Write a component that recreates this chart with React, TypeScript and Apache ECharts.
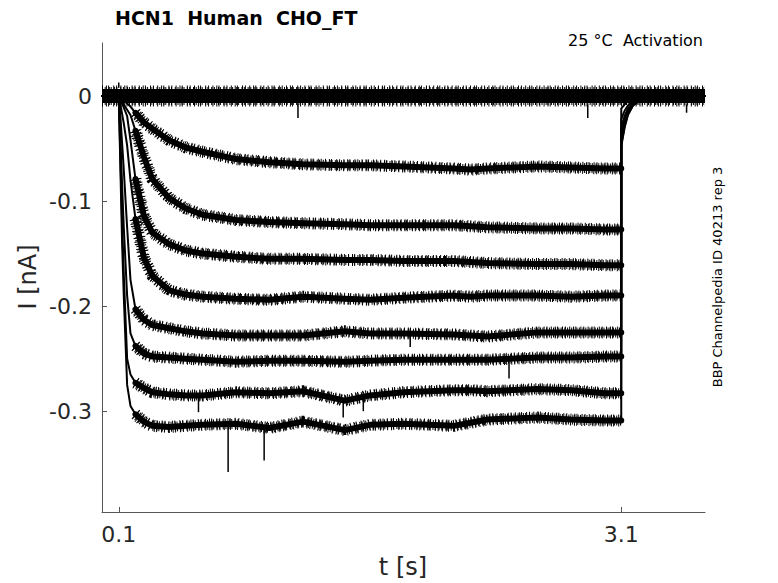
import React, { useEffect, useRef } from "react";
import * as echarts from "echarts";

// shared time base [s]
const times = [0, 0.1, 0.11, 0.12, 0.13, 0.15, 0.17, 0.2, 0.25, 0.3, 0.4, 0.5, 0.6, 0.8, 1.0, 1.2, 1.45, 1.6, 1.8, 2.1, 2.2, 2.3, 2.6, 2.8, 3.0, 3.1, 3.1, 3.12, 3.14, 3.17, 3.22, 3.3, 3.6];

// current traces [nA]
const trace1 = [0, 0, -0.001, -0.002, -0.004, -0.007, -0.010, -0.016, -0.025, -0.031, -0.042, -0.049, -0.053, -0.060, -0.063, -0.065, -0.066, -0.066, -0.067, -0.069, -0.070, -0.069, -0.067, -0.068, -0.069, -0.069, -0.012, -0.008, -0.005, -0.003, -0.001, 0, 0];
const trace2 = [0, 0, -0.002, -0.005, -0.008, -0.013, -0.018, -0.033, -0.058, -0.079, -0.097, -0.107, -0.113, -0.118, -0.120, -0.121, -0.122, -0.123, -0.123, -0.123, -0.124, -0.125, -0.126, -0.126, -0.127, -0.127, -0.022, -0.014, -0.009, -0.005, -0.002, 0, 0];
const trace3 = [0, 0, -0.003, -0.007, -0.011, -0.019, -0.042, -0.079, -0.114, -0.130, -0.141, -0.147, -0.150, -0.153, -0.155, -0.155, -0.156, -0.156, -0.157, -0.157, -0.158, -0.159, -0.160, -0.160, -0.161, -0.161, -0.030, -0.019, -0.012, -0.006, -0.002, 0, 0];
const trace4 = [0, 0, -0.008, -0.017, -0.026, -0.047, -0.080, -0.117, -0.154, -0.171, -0.185, -0.189, -0.191, -0.193, -0.194, -0.191, -0.193, -0.194, -0.192, -0.190, -0.191, -0.190, -0.190, -0.191, -0.190, -0.190, -0.036, -0.023, -0.014, -0.007, -0.002, 0, 0];
const trace5 = [0, 0, -0.020, -0.045, -0.070, -0.125, -0.175, -0.203, -0.213, -0.218, -0.221, -0.224, -0.226, -0.228, -0.228, -0.228, -0.224, -0.226, -0.226, -0.227, -0.228, -0.229, -0.225, -0.225, -0.225, -0.225, -0.040, -0.025, -0.015, -0.008, -0.002, 0, 0];
const trace6 = [0, 0, -0.040, -0.085, -0.125, -0.190, -0.226, -0.238, -0.245, -0.248, -0.249, -0.250, -0.251, -0.253, -0.252, -0.252, -0.253, -0.252, -0.251, -0.251, -0.251, -0.251, -0.249, -0.249, -0.248, -0.248, -0.043, -0.027, -0.016, -0.008, -0.002, 0, 0];
const trace7 = [0, 0, -0.060, -0.120, -0.170, -0.250, -0.265, -0.273, -0.278, -0.282, -0.284, -0.285, -0.285, -0.282, -0.283, -0.281, -0.290, -0.285, -0.282, -0.280, -0.280, -0.281, -0.279, -0.280, -0.283, -0.283, -0.046, -0.029, -0.017, -0.009, -0.003, 0, 0];
const trace8 = [0, 0, -0.070, -0.140, -0.190, -0.275, -0.295, -0.303, -0.310, -0.314, -0.315, -0.314, -0.313, -0.312, -0.316, -0.310, -0.318, -0.313, -0.312, -0.314, -0.311, -0.308, -0.306, -0.308, -0.309, -0.309, -0.048, -0.030, -0.018, -0.009, -0.003, 0, 0];
const traces = [trace1, trace2, trace3, trace4, trace5, trace6, trace7, trace8];

// baseline (non-activated sweeps)
const baselineTimes = [0, 3.6];
const baselineValues = [0, 0];

// isolated noise spikes
const spikeTimes = [0.753, 0.968, 0.576, 1.44, 1.56, 2.43, 1.84, 1.17, 2.9, 3.49, 0.1];
const spikeBase = [-0.314, -0.316, -0.285, -0.288, -0.285, -0.251, -0.226, -0.008, -0.008, -0.008, 0.008];
const spikeTip = [-0.358, -0.347, -0.301, -0.306, -0.300, -0.269, -0.239, -0.021, -0.021, -0.016, 0.013];

// tick labels
const xTicks = [0.1, 3.1];
const yTicks = [-0.3, -0.2, -0.1, 0];

const FONT = "DejaVu Sans";
const FRINGE = [1, 1.7, 1, 3.1, 1, 0.9, 1, 2.4, 1, 1.3, 1, 2.8];
const FRINGE2 = [1, 2.9, 1, 1.2, 1, 4.1, 1, 1.9, 1, 3.3];

export default function App() {
  const ref = useRef<HTMLDivElement>(null);
  useEffect(() => {
    document.body.style.margin = "0";
    if (!ref.current) return;
    const chart = echarts.init(ref.current, undefined, { renderer: "svg" });
    const series: any[] = [];
    const noiseStart = times.indexOf(0.2);
    const noiseEnd = times.indexOf(3.1);
    const base = baselineTimes.map((t, i) => [t, baselineValues[i]]);

    const line = (data: any[], width: number, type: any, z: number, cap = "round") => ({
      type: "line",
      data,
      symbol: "none",
      lineStyle: { color: "#000", width, type, cap, join: "round" },
      silent: true,
      z,
    });

    series.push(line(base, 21, FRINGE2, 2, "butt"));
    series.push(line(base, 18, FRINGE, 2, "butt"));
    series.push(line(base, 14, "solid", 2, "butt"));

    traces.forEach((tr) => {
      const all = times.map((t, i) => [t, tr[i]]);
      const plateau = all.slice(noiseStart, noiseEnd + 1);
      series.push(line(plateau, 12, FRINGE2, 3, "butt"));
      series.push(line(plateau, 10, FRINGE, 3, "butt"));
      series.push(line(plateau, 6, "solid", 3));
      series.push(line(all, 2, "solid", 4));
    });

    spikeTimes.forEach((t, i) => {
      series.push(line([[t, spikeBase[i]], [t, spikeTip[i]]], 1.5, "solid", 4, "butt"));
    });

    chart.setOption({
      animation: false,
      grid: { left: 102, right: 73, top: 43, bottom: 71 },
      xAxis: {
        type: "value",
        min: 0,
        max: 3.6,
        axisLine: { show: true, onZero: false, lineStyle: { color: "#555", width: 1 } },
        axisTick: { show: true, inside: true, length: 5, customValues: xTicks, lineStyle: { color: "#555" } },
        axisLabel: {
          customValues: xTicks,
          fontSize: 22,
          color: "#262626",
          fontFamily: FONT,
          margin: 11,
          formatter: (v: number) => v.toFixed(1),
        },
        splitLine: { show: false },
      },
      yAxis: {
        type: "value",
        min: -0.396,
        max: 0.0505,
        axisLine: { show: true, onZero: false, lineStyle: { color: "#555", width: 1 } },
        axisTick: { show: true, inside: true, length: 5, customValues: yTicks, lineStyle: { color: "#555" } },
        axisLabel: {
          customValues: yTicks,
          fontSize: 22,
          color: "#262626",
          fontFamily: FONT,
          margin: 10,
          formatter: (v: number) => (Math.abs(v) < 1e-9 ? "0" : v.toFixed(1)),
        },
        splitLine: { show: false },
      },
      graphic: [
        {
          type: "text",
          x: 115,
          y: 18,
          style: { text: "HCN1  Human  CHO_FT", font: `bold 19px "${FONT}"`, fill: "#000", verticalAlign: "middle", align: "left" },
        },
        {
          type: "text",
          x: 703,
          y: 40,
          style: { text: "25 °C  Activation", font: `16px "${FONT}"`, fill: "#000", verticalAlign: "middle", align: "right" },
        },
        {
          type: "text",
          x: 28,
          y: 277,
          rotation: Math.PI / 2,
          style: { text: "I [nA]", font: `24px "${FONT}"`, fill: "#262626", verticalAlign: "middle", align: "center" },
        },
        {
          type: "text",
          x: 403,
          y: 567,
          style: { text: "t [s]", font: `24px "${FONT}"`, fill: "#262626", verticalAlign: "middle", align: "center" },
        },
        {
          type: "text",
          x: 717,
          y: 277,
          rotation: Math.PI / 2,
          style: { text: "BBP Channelpedia ID 40213 rep 3", font: `13px "${FONT}"`, fill: "#000", verticalAlign: "middle", align: "center" },
        },
      ],
      series,
    });
    return () => chart.dispose();
  }, []);
  return <div ref={ref} style={{ width: 778, height: 583 }} />;
}
